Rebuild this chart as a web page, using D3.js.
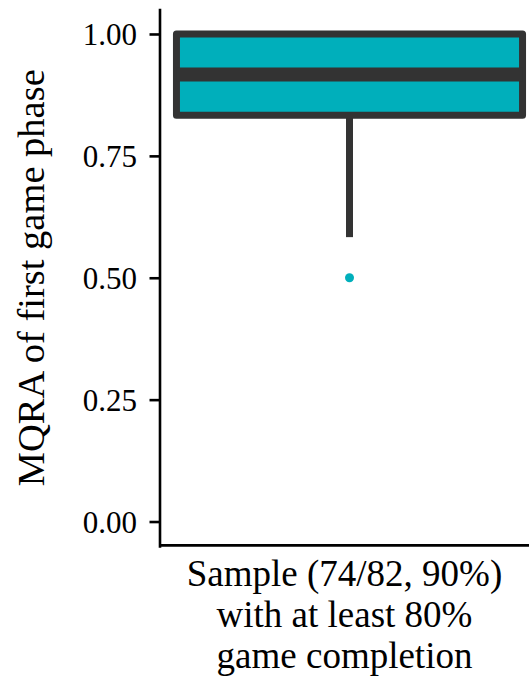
<!DOCTYPE html>
<html>
<head>
<meta charset="utf-8">
<script src="https://cdn.jsdelivr.net/npm/d3@7"></script>
<style>
  html, body { margin: 0; padding: 0; background: #fff; }
  svg { display: block; }
</style>
</head>
<body>
<svg id="chart" width="529" height="677"></svg>
<script>
// boxplot summary for the single group
const groups = ["sample"];
const groupLabel = ["Sample (74/82, 90%)", "with at least 80%", "game completion"];
const lowerWhisker = [0.5833];
const lowerHinge = [0.8333];
const medians = [0.9167];
const upperHinge = [1.0];
const upperWhisker = [1.0];
const outliers = [[0.5]];
const yTicks = [0, 0.25, 0.5, 0.75, 1.0];

const boxFill = "#00AFBB";
const boxLine = "#333333";
const serif = "Liberation Serif";

const svg = d3.select("#chart");
const panelLeft = 159.5, panelRight = 539.5, panelTop = 9.6, panelBottom = 545.9;

const y = d3.scaleLinear().domain([-0.05, 1.05]).range([panelBottom, panelTop]);
const x = d3.scaleBand().domain(groups).range([panelLeft, panelRight]).paddingInner(0).paddingOuter(0.049);

// y axis
const yAxis = svg.append("g")
    .attr("transform", `translate(${panelLeft},0)`)
    .call(d3.axisLeft(y).tickValues(yTicks).tickFormat(d3.format(".2f")).tickSize(10).tickSizeOuter(0).tickPadding(12.5));
yAxis.select(".domain").attr("stroke", "#000").attr("stroke-width", 2.6).attr("stroke-linecap", "square");
yAxis.selectAll(".tick line").attr("stroke", "#000").attr("stroke-width", 2.6);
yAxis.selectAll(".tick text")
    .style("font-family", serif).style("font-size", "31px")
    .attr("fill", "#000").attr("dy", "0.34em");

// x axis (line only, no ticks)
svg.append("line")
    .attr("x1", panelLeft).attr("x2", 529)
    .attr("y1", panelBottom - 0.5).attr("y2", panelBottom - 0.5)
    .attr("stroke", "#000").attr("stroke-width", 2.6);

const xLab = svg.append("text")
    .attr("text-anchor", "middle")
    .style("font-family", serif).style("font-size", "37px")
    .attr("fill", "#000");
groupLabel.forEach((t, i) => {
    xLab.append("tspan")
        .attr("x", x(groups[0]) + x.bandwidth() / 2 - 5)
        .attr("y", 586 + i * 41)
        .text(t);
});

// y title
svg.append("text")
    .attr("transform", `translate(43.5,${(panelTop + panelBottom) / 2}) rotate(-90)`)
    .attr("text-anchor", "middle")
    .style("font-family", serif).style("font-size", "38.5px")
    .attr("fill", "#000")
    .text("MQRA of first game phase");

// boxes
const bw = x.bandwidth();
groups.forEach((g, i) => {
    const x0 = x(g), cx = x0 + bw / 2;
    svg.append("line")
        .attr("x1", cx).attr("x2", cx)
        .attr("y1", y(lowerHinge[i])).attr("y2", y(lowerWhisker[i]))
        .attr("stroke", boxLine).attr("stroke-width", 7);
    svg.append("line")
        .attr("x1", cx).attr("x2", cx)
        .attr("y1", y(upperHinge[i])).attr("y2", y(upperWhisker[i]))
        .attr("stroke", boxLine).attr("stroke-width", 7);
    svg.append("rect")
        .attr("x", x0).attr("width", bw)
        .attr("y", y(upperHinge[i])).attr("height", y(lowerHinge[i]) - y(upperHinge[i]))
        .attr("fill", boxFill).attr("stroke", boxLine).attr("stroke-width", 7)
        .attr("stroke-linejoin", "round");
    svg.append("line")
        .attr("x1", x0).attr("x2", x0 + bw)
        .attr("y1", y(medians[i])).attr("y2", y(medians[i]))
        .attr("stroke", boxLine).attr("stroke-width", 14);
    svg.selectAll(null).data(outliers[i]).enter().append("circle")
        .attr("cx", cx).attr("cy", d => y(d)).attr("r", 4.5)
        .attr("fill", boxFill);
});
</script>
</body>
</html>
